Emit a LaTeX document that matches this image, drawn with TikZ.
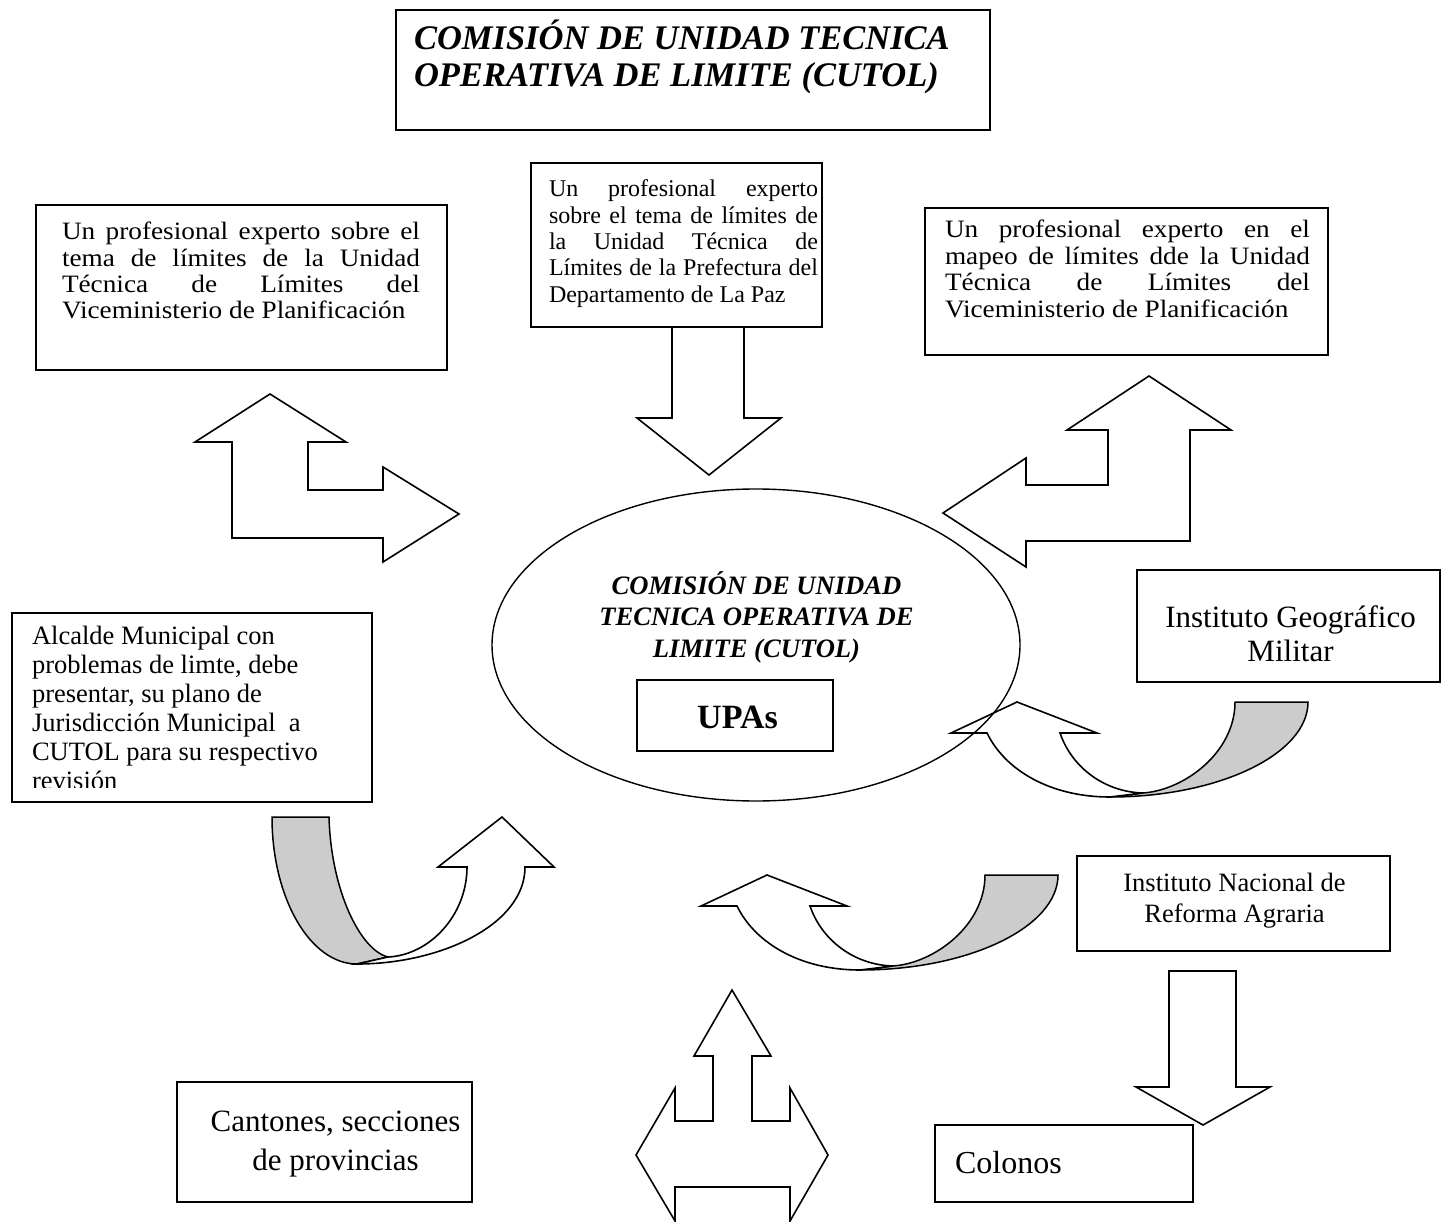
\documentclass[tikz,border=0pt]{standalone}
\usepackage{fontspec}
\setmainfont{Liberation Serif}
\newfontfamily\widefont[FakeStretch=1.09]{Liberation Serif}
\usetikzlibrary{shapes.geometric}
\definecolor{ribbongray}{RGB}{204,204,204}
\newcommand\myjl[2]{\hbox{\makebox[#1][s]{#2}}}
\newcommand\mycl[1]{\hbox to 0pt{\hss#1\hss}}
\newcommand\myskip[1]{\baselineskip=#1\lineskiplimit=-100pt\relax}
\tikzset{
  boxframe/.style={draw, line width=1.7pt, inner sep=0pt, outer sep=0pt, anchor=north west},
  blockarrow/.style={draw, line width=1.6pt, fill=white, line join=miter},
  ribbon/.style={draw, line width=1.5pt, fill=ribbongray},
  txt/.style={anchor=base west, inner sep=0pt, outer sep=0pt},
  pics/uturnR/.style={code={
    \path[ribbon] (291,0) .. controls (291,52) and (202,95) .. (93,95) -- (126,91)
       .. controls (168,88) and (218,50) .. (218,0) -- cycle;
    \path[blockarrow] (-30,31) .. controls (-12,68) and (33,95) .. (93,95) -- (126,91)
       .. controls (88,90) and (55,66) .. (43,31) -- (80,31) -- (0,0) -- (-66,31) -- cycle;
  }}
}
\begin{document}
\begin{tikzpicture}[x=1pt,y=-1pt]
\fill[white] (0,0) rectangle (1442,1222);
\useasboundingbox (0,0) rectangle (1442,1222);

% frames
\node[boxframe, minimum width=594, minimum height=120] (title) at (396,10) {};
\node[boxframe, minimum width=411, minimum height=165] (b1) at (36,205) {};
\node[boxframe, minimum width=291, minimum height=164] (b2) at (531,163) {};
\node[boxframe, minimum width=403, minimum height=147] (b3) at (925,208) {};
\node[boxframe, minimum width=360, minimum height=189] (alc) at (12,613) {};
\node[boxframe, minimum width=303, minimum height=112] (igm) at (1137,570) {};
\node[boxframe, minimum width=313, minimum height=95] (inra) at (1077,856) {};
\node[boxframe, minimum width=258, minimum height=77] (col) at (935,1125) {};
\node[boxframe, minimum width=295, minimum height=120] (can) at (177,1082) {};

% block arrows
\path[blockarrow] (270,394) -- (346,442) -- (308,442) -- (308,490) -- (383,490) -- (383,467)
  -- (459,514) -- (383,562) -- (383,538) -- (232,538) -- (232,442) -- (195,442) -- cycle;
\path[blockarrow] (1149,376) -- (1231,430) -- (1190,430) -- (1190,541) -- (1026,541) -- (1026,567)
  -- (943,513) -- (1026,458) -- (1026,485) -- (1108,485) -- (1108,430) -- (1067,430) -- cycle;
\path[blockarrow] (672,327) -- (672,418) -- (637,418) -- (709,475) -- (781,418) -- (744,418) -- (744,327) -- cycle;
\path[blockarrow] (1169,971) -- (1169,1087) -- (1136,1087) -- (1203,1125) -- (1270,1087) -- (1236,1087) -- (1236,971) -- cycle;
\path[blockarrow] (732,990) -- (771,1056) -- (752,1056) -- (752,1121) -- (790,1121) -- (790,1088)
  -- (828,1155) -- (790,1221) -- (790,1187) -- (675,1187) -- (675,1221) -- (636,1155)
  -- (675,1088) -- (675,1121) -- (713,1121) -- (713,1056) -- (694,1056) -- cycle;

% U-turn arrows
\pic at (1017,702) {uturnR};
\pic at (767,875) {uturnR};
\path[ribbon] (272,817) .. controls (272,898) and (310,964) .. (357,964) -- (388,957)
   .. controls (360,950) and (331,890) .. (329,817) -- cycle;
\path[blockarrow] (525,867) .. controls (525,925) and (440,964) .. (357,964) -- (388,957)
   .. controls (430,955) and (467,915) .. (467,867) -- (438,867) -- (502,817) -- (554,867) -- cycle;

% central ellipse and UPAs frame
\node[draw, ellipse, line width=1.4pt, minimum width=528, minimum height=312, inner sep=0pt] (ell) at (756,645) {};
\node[boxframe, minimum width=196, minimum height=71, fill=white] (upa) at (637,680) {};

% texts
\node[txt, font=\fontsize{34.5}{37}\selectfont\bfseries\itshape] (ttltxt) at (414,50)
  {\vtop{\myskip{37pt}\hbox{COMISIÓN DE UNIDAD TECNICA}\hbox{OPERATIVA DE LIMITE (CUTOL)}}};

\node[txt, font=\widefont\fontsize{25}{26.3}\selectfont] (b1txt) at (62,240)
  {\vtop{\myskip{26.3pt}\myjl{358pt}{Un profesional experto sobre el}\myjl{358pt}{tema de límites de la Unidad}\myjl{358pt}{Técnica de Límites del}\hbox{Viceministerio de Planificación}}};
\node[txt, font=\fontsize{24}{26.3}\selectfont] (b2txt) at (549,197)
  {\vtop{\myskip{26.3pt}\myjl{269pt}{Un profesional experto}\myjl{269pt}{sobre el tema de límites de}\myjl{269pt}{la Unidad Técnica de}\myjl{269pt}{Límites de la Prefectura del}\hbox{Departamento de La Paz}}};
\node[txt, font=\widefont\fontsize{25}{26.5}\selectfont] (b3txt) at (945,238)
  {\vtop{\myskip{26.5pt}\myjl{365pt}{Un profesional experto en el}\myjl{365pt}{mapeo de límites dde la Unidad}\myjl{365pt}{Técnica de Límites del}\hbox{Viceministerio de Planificación}}};

\node[txt, font=\fontsize{26.6}{31.5}\selectfont\bfseries\itshape] (elltxt) at (756,594)
  {\vtop{\myskip{31.5pt}\mycl{COMISIÓN DE UNIDAD}\mycl{TECNICA OPERATIVA DE}\mycl{LIMITE (CUTOL)}}};
\node[txt, font=\fontsize{34}{36}\selectfont\bfseries] (upatxt) at (737,728) {\mycl{UPAs}};

\begin{scope}
  \clip (12,613) rectangle (372,787);
  \node[txt, font=\fontsize{26.5}{29}\selectfont] (alctxt) at (32,644)
    {\vtop{\myskip{29pt}\hbox{Alcalde Municipal con}\hbox{problemas de limte, debe}\hbox{presentar, su plano de}\hbox{Jurisdicción Municipal\ \ a}\hbox{CUTOL para su respectivo}\hbox{revisión}}};
\end{scope}

\node[txt, font=\fontsize{31}{34}\selectfont] (igmtxt) at (1290,627)
  {\vtop{\myskip{34pt}\mycl{Instituto Geográfico}\mycl{Militar}}};
\node[txt, font=\fontsize{26.5}{31}\selectfont] (inratxt) at (1234,891)
  {\vtop{\myskip{31pt}\mycl{Instituto Nacional de}\mycl{Reforma Agraria}}};
\node[txt, font=\fontsize{31}{39}\selectfont] (cantxt) at (335,1131)
  {\vtop{\myskip{39pt}\mycl{Cantones, secciones}\mycl{de provincias}}};
\node[txt, font=\fontsize{32}{34}\selectfont] (coltxt) at (955,1173) {Colonos};
\end{tikzpicture}
\end{document}
